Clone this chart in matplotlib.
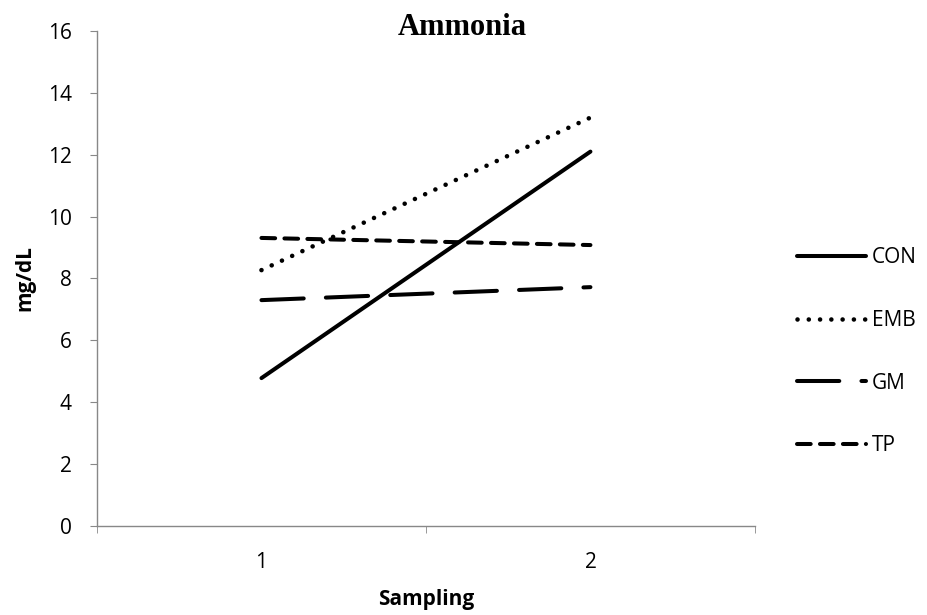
import matplotlib
matplotlib.use('Agg')
import matplotlib.pyplot as plt

# data
sampling = [1, 2]
con = [4.78, 12.10]
emb = [8.27, 13.20]
gm = [7.30, 7.72]
tp = [9.31, 9.08]

plt.rcParams['font.family'] = ['Open Sans', 'DejaVu Sans']

fig = plt.figure(figsize=(9.28, 6.15), dpi=100)
ax = fig.add_axes([0.1045, 0.1447, 0.709, 0.805])

lw = 2.9
ax.plot(sampling, con, color='black', lw=lw, solid_capstyle='round', label='CON')
ax.plot(sampling, emb, color='black', lw=3.3, dashes=(0.01, 2.45),
        dash_capstyle='round', label='EMB')
ax.plot(sampling, gm, color='black', lw=lw, dashes=(10.5, 5.5),
        dash_capstyle='round', label='GM')
ax.plot(sampling, tp, color='black', lw=lw, dashes=(3.4, 2.3),
        dash_capstyle='round', label='TP')

ax.set_xlim(0.5, 2.5)
ax.set_ylim(0, 16)
ax.set_yticks(range(0, 17, 2))
ax.set_xticks(sampling)
ax.set_xticks([0.5, 1.5, 2.5], minor=True)
ax.tick_params(axis='x', which='major', length=0, pad=19, labelsize=15)
ax.tick_params(axis='x', which='minor', length=5, color='#888888', direction='out')
ax.tick_params(axis='y', length=5, color='#888888', direction='out', labelsize=15, pad=13)

for side in ['top', 'right']:
    ax.spines[side].set_visible(False)
for side in ['left', 'bottom']:
    ax.spines[side].set_color('#888888')
    ax.spines[side].set_linewidth(1.0)

ax.set_xlabel('Sampling', fontsize=15, fontweight='bold', labelpad=11)
ax.set_ylabel('mg/dL', fontsize=15, fontweight='bold', labelpad=9)
fig.text(0.4985, 0.955, 'Ammonia', fontsize=22, fontweight='bold',
         family='Liberation Serif', ha='center', va='center')

ax.legend(loc='upper left', bbox_to_anchor=(0.859, 0.598), bbox_transform=fig.transFigure,
          frameon=False, fontsize=15, handlelength=3.3, handletextpad=0.3,
          labelspacing=2.0, borderpad=0, borderaxespad=0)

fig.savefig('out.png', dpi=100)
